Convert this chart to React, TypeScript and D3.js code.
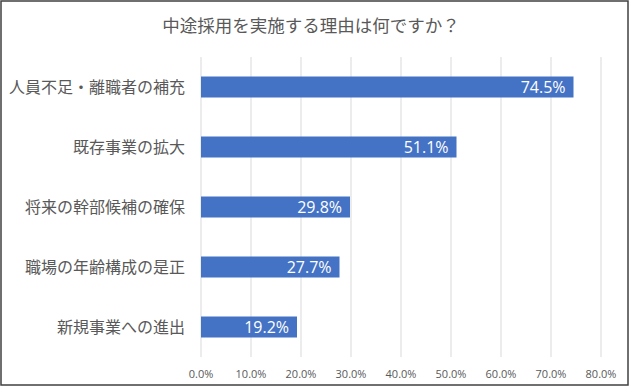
import React from "react";
import * as d3 from "d3";

const title = "中途採用を実施する理由は何ですか？";
const categories = [
  "人員不足・離職者の補充",
  "既存事業の拡大",
  "将来の幹部候補の確保",
  "職場の年齢構成の是正",
  "新規事業への進出",
];
const values = [74.5, 51.1, 29.8, 27.7, 19.2];
const ticks = [0, 10, 20, 30, 40, 50, 60, 70, 80];

const W = 630;
const H = 387;
const left = 201;
const right = 601;
const top = 57;
const bottom = 357;

export default function App() {
  const x = d3.scaleLinear().domain([0, 80]).range([left, right]);
  const y = d3
    .scaleBand<string>()
    .domain(categories)
    .range([top, bottom])
    .paddingInner(0.65)
    .paddingOuter(0.325);
  const jp = "'Noto Sans CJK JP', sans-serif";
  const num = "'Open Sans', 'Noto Sans', sans-serif";
  return (
    <svg
      width={W}
      height={H}
      style={{ position: "absolute", left: 0, top: 0, background: "#fff" }}
    >
      <rect x={1} y={1} width={627} height={384} fill="#fff" stroke="#404040" strokeWidth={1.5} />
      <text x={311} y={32} textAnchor="middle" fontFamily={jp} fontSize={17.5} fill="#595959">
        {title}
      </text>
      {ticks.map((t) => (
        <g key={t}>
          <line x1={x(t)} x2={x(t)} y1={top} y2={bottom} stroke="#d9d9d9" strokeWidth={1} />
          <text x={x(t)} y={378} textAnchor="middle" fontFamily={num} fontSize={11} fill="#595959">
            {t.toFixed(1) + "%"}
          </text>
        </g>
      ))}
      {categories.map((c, i) => {
        const yy = y(c)!;
        const bh = y.bandwidth();
        return (
          <g key={c}>
            <rect x={x(0)} y={yy} width={x(values[i]) - x(0)} height={bh} fill="#4472C4" />
            <text
              x={185}
              y={yy + bh / 2}
              dy="0.36em"
              textAnchor="end"
              fontFamily={jp}
              fontSize={16}
              fill="#595959"
            >
              {c}
            </text>
            <text
              x={x(values[i]) - 8}
              y={yy + bh / 2}
              dy="0.36em"
              textAnchor="end"
              fontFamily={num}
              fontSize={16}
              fill="#fff"
            >
              {values[i].toFixed(1) + "%"}
            </text>
          </g>
        );
      })}
    </svg>
  );
}
